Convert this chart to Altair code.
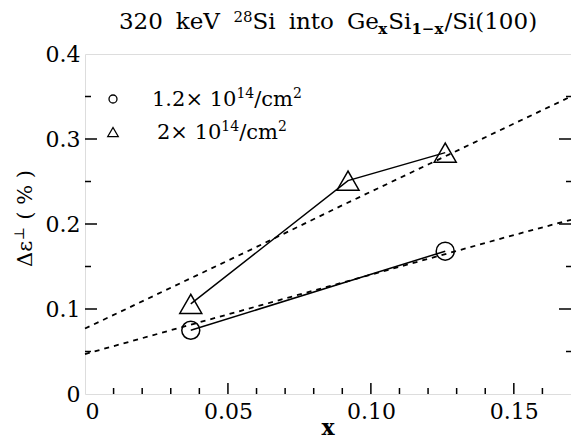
import altair as alt
import pandas as pd

# ---- data ----
x_lo = [0.037, 0.126]
y_lo = [0.075, 0.168]
x_hi = [0.037, 0.092, 0.126]
y_hi = [0.106, 0.251, 0.284]
fit_x = [0.0, 0.03, 0.06, 0.09, 0.12, 0.15, 0.17]
fit_lo = [0.047, 0.075, 0.103, 0.131, 0.159, 0.187, 0.205]
fit_hi = [0.077, 0.125, 0.173, 0.222, 0.270, 0.318, 0.350]

x_major = [0.05, 0.10, 0.15]
x_minor = [0.01, 0.02, 0.03, 0.04, 0.06, 0.07, 0.08, 0.09, 0.11, 0.12, 0.13, 0.14, 0.16]
y_major = [0.1, 0.2, 0.3]
y_minor = [0.05, 0.15, 0.25, 0.35]
x_labels = [0, 0.05, 0.10, 0.15]
y_labels = [0, 0.1, 0.2, 0.3, 0.4]

# rich-text pieces: (text, kind) kind: n=normal, sup=superscript, sub=bold subscript, gap=space
title_pieces = [("320", "n"), ("", "gap"), ("keV", "n"), ("", "gap"), ("28", "sup"), ("Si", "n"),
                ("", "gap"), ("into", "n"), ("", "gap"), ("Ge", "n"), ("x", "sub"),
                ("Si", "n"), ("1\u2212x", "sub"), ("/Si(100)", "n")]
legend1_pieces = [("1.2\u00d7 10", "n"), ("14", "sup"), ("/cm", "n"), ("2", "sup")]
legend2_pieces = [("2\u00d7 10", "n"), ("14", "sup"), ("/cm", "n"), ("2", "sup")]
ytitle_pieces = [("\u0394\u03b5", "n"), ("\u22a5", "sup"), ("", "gap"), ("( % )", "n")]

W, H = 486, 340
FONT = "DejaVu Serif"

# approximate DejaVu Serif advance widths (em) for laying out rich text pieces
ADV = {" ": .318, ".": .318, "/": .337, "(": .390, ")": .390, "\u00d7": .838, "\u2212": .838,
       "%": .950, "S": .686, "i": .320, "n": .644, "t": .402, "o": .602, "G": .775, "e": .592,
       "k": .627, "V": .722, "x": .565, "c": .560, "m": .948, "\u0394": .725, "\u03b5": .540,
       "\u22a5": .838}
ADV_BOLD = {"x": .664, "\u2212": .838}


def width(text, size, bold=False):
    w = 0.0
    for ch in text:
        if ch.isdigit():
            w += .696 if bold else .636
        elif bold and ch in ADV_BOLD:
            w += ADV_BOLD[ch]
        else:
            w += ADV.get(ch, .6)
    return w * size


def layout(pieces, size, small, gap, sup_shift):
    rows, pos = [], 0.0
    for t, k in pieces:
        if k == "gap":
            pos += gap
        elif k == "n":
            rows.append(dict(t=t, off=pos, size=size, shift=0, bold="normal"))
            pos += width(t, size)
        elif k == "sup":
            rows.append(dict(t=t, off=pos, size=small, shift=-sup_shift * size, bold="normal"))
            pos += width(t, small)
        else:
            rows.append(dict(t=t, off=pos, size=small, shift=0.22 * size, bold="bold"))
            pos += width(t, small, True)
    return rows, pos


def rich_text(pieces, size, small, x0, y0, center=False, angle=0, gap=10, sup_shift=0.36):
    rows, total = layout(pieces, size, small, gap, sup_shift)
    start = x0 - total / 2 if center else x0
    layers = []
    for r in rows:
        if angle == 0:
            xp, yp = start + r["off"], y0 + r["shift"]
        else:  # rotated 270: text runs upward
            xp, yp = x0 + r["shift"], y0 - r["off"]
        layers.append(
            alt.Chart(pd.DataFrame({"t": [r["t"]]})).mark_text(
                font=FONT, fontSize=r["size"], fontWeight=r["bold"], align="left",
                baseline="alphabetic", color="black", angle=angle
            ).encode(text="t:N", x=alt.value(xp), y=alt.value(yp))
        )
    return layers


xs = alt.Scale(domain=[0, 0.17], nice=False, zero=False)
ys = alt.Scale(domain=[0, 0.4], nice=False)

fit_df = pd.DataFrame({
    "x": fit_x + fit_x,
    "y": fit_lo + fit_hi,
    "s": ["lo"] * len(fit_x) + ["hi"] * len(fit_x),
})
lo_df = pd.DataFrame({"x": x_lo, "y": y_lo})
hi_df = pd.DataFrame({"x": x_hi, "y": y_hi})

xaxis = alt.Axis(values=x_labels, labelExpr="datum.value == 0 ? '0' : format(datum.value, '.2f')",
                 ticks=False, tickSize=0, domain=False, grid=False, labelFont=FONT, labelFontSize=22,
                 labelColor="black", labelPadding=7, title=None)
yaxis = alt.Axis(values=y_labels, labelExpr="datum.value == 0 ? '0' : format(datum.value, '.1f')",
                 ticks=False, tickSize=0, domain=False, grid=False, labelFont=FONT, labelFontSize=22,
                 labelColor="black", labelPadding=5, title=None)

fits = alt.Chart(fit_df).mark_line(color="black", strokeWidth=1.8, strokeDash=[5, 5]).encode(
    x=alt.X("x:Q", scale=xs, axis=xaxis),
    y=alt.Y("y:Q", scale=ys, axis=yaxis),
    detail="s:N",
)

lo_line = alt.Chart(lo_df).mark_line(color="black", strokeWidth=1.5).encode(
    x=alt.X("x:Q", scale=xs), y=alt.Y("y:Q", scale=ys))
lo_pts = alt.Chart(lo_df).mark_point(shape="circle", size=324, color="black", strokeWidth=1.5,
                                     filled=False, opacity=1).encode(
    x=alt.X("x:Q", scale=xs), y=alt.Y("y:Q", scale=ys))
hi_line = alt.Chart(hi_df).mark_line(color="black", strokeWidth=1.5).encode(
    x=alt.X("x:Q", scale=xs), y=alt.Y("y:Q", scale=ys))
hi_pts = alt.Chart(hi_df).mark_point(shape="triangle-up", size=484, color="black", strokeWidth=1.5,
                                     filled=False, opacity=1).encode(
    x=alt.X("x:Q", scale=xs), y=alt.Y("y:Q", scale=ys))

# inward ticks
xmaj = alt.Chart(pd.DataFrame({"v": x_major})).mark_rule(color="black", strokeWidth=1.5).encode(
    x=alt.X("v:Q", scale=xs), y=alt.value(H), y2=alt.value(H - 11))
xmin = alt.Chart(pd.DataFrame({"v": x_minor})).mark_rule(color="black", strokeWidth=1.5).encode(
    x=alt.X("v:Q", scale=xs), y=alt.value(H), y2=alt.value(H - 6))
ylmaj = alt.Chart(pd.DataFrame({"v": y_major})).mark_rule(color="black", strokeWidth=1.5).encode(
    y=alt.Y("v:Q", scale=ys), x=alt.value(0), x2=alt.value(12))
ylmin = alt.Chart(pd.DataFrame({"v": y_minor})).mark_rule(color="black", strokeWidth=1.5).encode(
    y=alt.Y("v:Q", scale=ys), x=alt.value(0), x2=alt.value(6))
yrmaj = alt.Chart(pd.DataFrame({"v": y_major})).mark_rule(color="black", strokeWidth=1.5).encode(
    y=alt.Y("v:Q", scale=ys), x=alt.value(W), x2=alt.value(W - 12))
yrmin = alt.Chart(pd.DataFrame({"v": y_minor})).mark_rule(color="black", strokeWidth=1.5).encode(
    y=alt.Y("v:Q", scale=ys), x=alt.value(W), x2=alt.value(W - 5))

# legend markers
leg_c = alt.Chart(pd.DataFrame({"a": [0]})).mark_point(shape="circle", size=64, color="black",
                                                       strokeWidth=1.3, filled=False, opacity=1).encode(
    x=alt.value(28), y=alt.value(45))
leg_t = alt.Chart(pd.DataFrame({"a": [0]})).mark_point(shape="triangle-up", size=110, color="black",
                                                       strokeWidth=1.3, filled=False, opacity=1).encode(
    x=alt.value(28), y=alt.value(78))

text_layers = []
text_layers += rich_text(title_pieces, 23, 15, W / 2, -25, center=True, gap=13, sup_shift=0.32)
text_layers += rich_text(legend1_pieces, 21, 14, 67, 52)
text_layers += rich_text(legend2_pieces, 21, 14, 72, 85)
text_layers += rich_text(ytitle_pieces, 21, 14, -53, 213, angle=270, gap=9)

xtitle = alt.Chart(pd.DataFrame({"t": ["x"]})).mark_text(
    font=FONT, fontSize=22, fontWeight="bold", align="center", baseline="alphabetic", color="black"
).encode(text="t:N", x=alt.value(W / 2), y=alt.value(H + 41))

chart = alt.layer(
    fits, lo_line, hi_line, lo_pts, hi_pts,
    xmaj, xmin, ylmaj, ylmin, yrmaj, yrmin,
    leg_c, leg_t, xtitle, *text_layers,
).properties(
    width=W, height=H,
    autosize=alt.AutoSizeParams(type="none"),
    padding={"left": 77, "top": 46, "right": 0, "bottom": 46},
).configure_view(stroke="black", strokeWidth=1.8).configure(background="white")

chart.save("out.html", embed_options={"renderer": "svg", "actions": False})
